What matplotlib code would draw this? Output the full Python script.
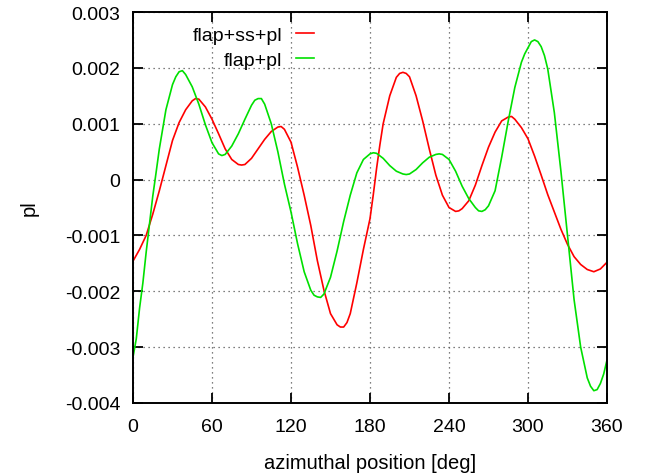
import matplotlib
matplotlib.use("Agg")
import matplotlib.pyplot as plt

plt.rcParams["font.family"] = ["Liberation Sans", "DejaVu Sans"]

# flap + ss + pl response: azimuth [deg] and value (units of 1e-3)
az_flap_ss_pl = [
    0, 5, 10, 15, 20, 25, 30, 35, 40, 45, 47.5, 50, 55, 60, 65, 70, 75, 80, 82.5, 85,
    90, 95, 100, 105, 110, 112.5, 115, 120, 125, 130, 135, 140, 145, 150, 155, 157.5,
    160, 162.5, 165, 170, 175, 180, 182.5, 185, 187.5, 190, 195, 200, 202.5, 205,
    207.5, 210, 215, 220, 225, 230, 235, 240, 245, 247.5, 250, 255, 260, 265, 270,
    275, 280, 285, 287.5, 290, 295, 300, 305, 310, 315, 320, 325, 330, 335, 340, 345,
    350, 355, 360,
]
flap_ss_pl = [
    -1.46, -1.25, -1.00, -0.62, -0.20, 0.25, 0.70, 1.02, 1.25, 1.41, 1.45, 1.44, 1.30,
    1.08, 0.82, 0.55, 0.36, 0.27, 0.26, 0.27,
    0.38, 0.55, 0.72, 0.86, 0.94, 0.95, 0.90, 0.67, 0.22, -0.28, -0.82, -1.45, -1.98,
    -2.40, -2.60, -2.64,
    -2.64, -2.56, -2.40, -1.85, -1.25, -0.70, -0.27, 0.20, 0.62, 1.00, 1.50, 1.83, 1.90,
    1.92,
    1.90, 1.84, 1.50, 1.05, 0.55, 0.08, -0.28, -0.50, -0.57, -0.56, -0.52, -0.38, -0.10,
    0.25, 0.58,
    0.85, 1.05, 1.12, 1.13, 1.08, 0.93, 0.73, 0.42, 0.08, -0.27, -0.58, -0.89, -1.16,
    -1.38, -1.52, -1.61,
    -1.65, -1.60, -1.48,
]

# flap + pl response: azimuth [deg] and value (units of 1e-3)
az_flap_pl = [
    0, 2.5, 5, 7.5, 10, 12.5, 15, 17.5, 20, 25, 30, 32.5, 35, 37.5, 40, 45, 50, 55, 60,
    65, 67.5, 70, 75, 80, 85, 90, 92.5, 95, 97.5, 100, 105, 110, 115, 120, 125, 130,
    135, 137.5, 140, 142.5, 145, 150, 155, 160, 165, 170, 175, 180, 182.5, 185, 190,
    195, 200, 205, 207.5, 210, 215, 220, 225, 230, 232.5, 235, 240, 245, 250, 255, 260,
    262.5, 265, 267.5, 270, 275, 280, 285, 290, 295, 297.5, 300, 302.5, 305, 307.5, 310,
    312.5, 315, 320, 325, 330, 335, 340, 345, 347.5, 350, 352.5, 355, 357.5, 360,
]
flap_pl = [
    -3.18, -2.85, -2.30, -1.85, -1.30, -0.80, -0.30, 0.12, 0.55, 1.25, 1.70, 1.84, 1.93,
    1.95, 1.88, 1.66, 1.35, 0.98, 0.66,
    0.46, 0.43, 0.45, 0.60, 0.82, 1.08, 1.33, 1.42, 1.45, 1.45, 1.35, 1.00, 0.50, -0.08,
    -0.58, -1.15, -1.65,
    -1.98, -2.07, -2.10, -2.11, -2.05, -1.75, -1.28, -0.75, -0.28, 0.12, 0.36, 0.46, 0.48,
    0.47, 0.38,
    0.25, 0.15, 0.10, 0.09, 0.10, 0.18, 0.30, 0.40, 0.45, 0.46, 0.45, 0.36, 0.15, -0.12,
    -0.34, -0.50,
    -0.56, -0.57, -0.54, -0.47, -0.20, 0.40, 1.05, 1.65, 2.10, 2.25, 2.36, 2.47, 2.50,
    2.47, 2.38,
    2.22, 1.98, 1.20, 0.15, -1.00, -2.15, -3.00, -3.55, -3.70, -3.78, -3.76, -3.65,
    -3.48, -3.23,
]

x_ticks = [0, 60, 120, 180, 240, 300, 360]
y_ticks = [-0.004, -0.003, -0.002, -0.001, 0, 0.001, 0.002, 0.003]
y_tick_labels = ["-0.004", "-0.003", "-0.002", "-0.001", "0", "0.001", "0.002", "0.003"]

fig = plt.figure(figsize=(6.51, 4.77), dpi=100)
ax = fig.add_axes([133 / 651, 1 - 404 / 477, (607 - 133) / 651, (404 - 13) / 477])

ax.plot(az_flap_ss_pl, [v * 1e-3 for v in flap_ss_pl], color="#ff0000", lw=1.2,
        label="flap+ss+pl")
ax.plot(az_flap_pl, [v * 1e-3 for v in flap_pl], color="#00e000", lw=1.2,
        label="flap+pl")

ax.set_xlim(0, 360)
ax.set_ylim(-0.004, 0.003)
ax.set_xticks(x_ticks)
ax.set_xticklabels([str(t) for t in x_ticks])
ax.set_yticks(y_ticks)
ax.set_yticklabels(y_tick_labels)

ax.tick_params(direction="in", length=7, width=1.3, top=True, right=True,
               labelsize=14, colors="black")
ax.tick_params(axis="x", pad=11)
ax.tick_params(axis="y", pad=9)
ax.grid(True, linestyle=(0, (1, 3)), color="#555555", lw=0.9)
for s in ax.spines.values():
    s.set_linewidth(1.4)

ax.set_xlabel("azimuthal position [deg]", fontsize=14.5, labelpad=13)
ax.set_ylabel("pl", fontsize=14.5, labelpad=19)

leg = ax.legend(loc="upper right", bbox_to_anchor=(314 / 651, 1 - 27 / 477),
                bbox_transform=fig.transFigure, frameon=False, markerfirst=False,
                fontsize=14, handlelength=0.95, handletextpad=0.7,
                labelspacing=0.38, borderpad=0, borderaxespad=0)
leg.set_zorder(5)

fig.savefig("out.png", dpi=100)
